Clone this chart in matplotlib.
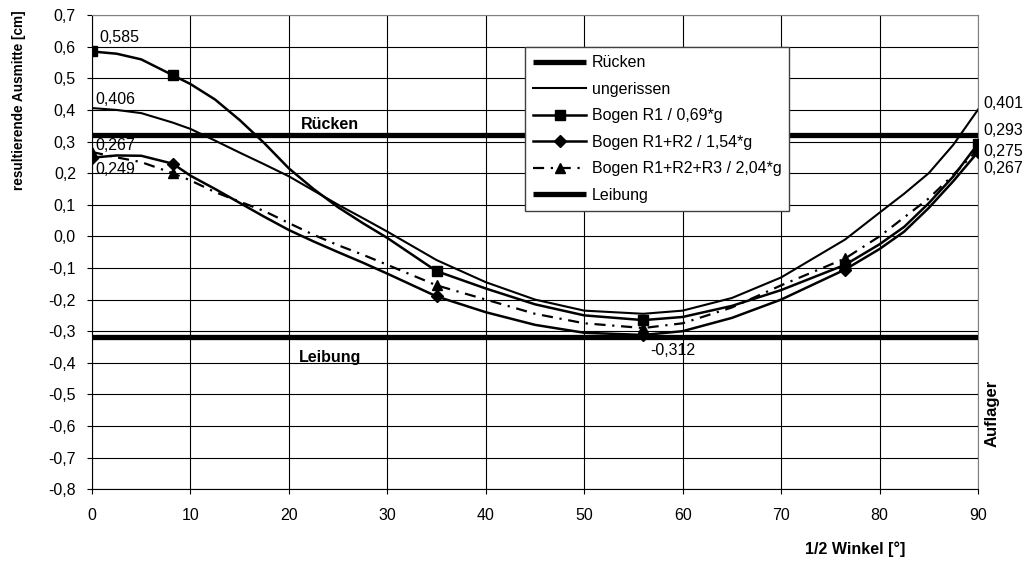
import matplotlib
matplotlib.use("Agg")
import matplotlib.pyplot as plt
from matplotlib.ticker import FuncFormatter, MultipleLocator

plt.rcParams['font.family'] = ['Liberation Sans', 'DejaVu Sans']
plt.rcParams['font.size'] = 11.5

winkel = [0, 2.5, 5, 8.2, 10, 12.5, 15, 17.5, 20, 22.5, 25, 27.5, 30, 35, 40,
          45, 50, 56, 60, 65, 70, 76.5, 80, 82.5, 85, 87.5, 90]
# angles with markers
marker_winkel = [0, 8.2, 35, 56, 76.5, 90]

ungerissen = [0.406, 0.400, 0.390, 0.360, 0.340, 0.303, 0.265, 0.228, 0.190,
              0.145, 0.100, 0.058, 0.015, -0.075, -0.145, -0.200, -0.235,
              -0.245, -0.235, -0.195, -0.130, -0.010, 0.075, 0.135, 0.200,
              0.290, 0.401]
bogen_r1 = [0.585, 0.578, 0.560, 0.510, 0.482, 0.433, 0.368, 0.295, 0.215,
            0.150, 0.092, 0.042, -0.005, -0.110, -0.165, -0.215, -0.250,
            -0.265, -0.255, -0.220, -0.170, -0.090, -0.025, 0.030, 0.105,
            0.190, 0.293]
bogen_r12 = [0.249, 0.256, 0.255, 0.230, 0.192, 0.150, 0.106, 0.062, 0.020,
             -0.016, -0.050, -0.083, -0.118, -0.190, -0.240, -0.280, -0.305,
             -0.312, -0.300, -0.258, -0.200, -0.105, -0.040, 0.015, 0.090,
             0.175, 0.267]
bogen_r123 = [0.267, 0.250, 0.235, 0.200, 0.177, 0.140, 0.110, 0.080, 0.042,
              0.005, -0.028, -0.058, -0.090, -0.155, -0.200, -0.245, -0.275,
              -0.290, -0.275, -0.225, -0.155, -0.070, 0.000, 0.060, 0.120,
              0.195, 0.275]
ruecken = 0.32
leibung = -0.32

marks = [winkel.index(w) for w in marker_winkel]

fig = plt.figure(figsize=(10.26, 5.61), dpi=100)
ax = fig.add_axes([0.0897, 0.128, 0.8635, 0.845])

ax.plot([winkel[0], winkel[-1]], [ruecken, ruecken], color='black', lw=3.8,
        label='Rücken', solid_capstyle='butt', zorder=3)
ax.plot(winkel, ungerissen, color='black', lw=1.5, label='ungerissen', zorder=4)
ax.plot(winkel, bogen_r1, color='black', lw=1.8, marker='s', ms=7.5,
        markevery=marks, label='Bogen R1 / 0,69*g', zorder=6)
ax.plot(winkel, bogen_r12, color='black', lw=1.8, marker='D', ms=6,
        markevery=marks, label='Bogen R1+R2 / 1,54*g', zorder=5)
ax.plot(winkel, bogen_r123, color='black', lw=1.6, marker='^', ms=7.5,
        markevery=marks, linestyle=(0, (5, 3, 1, 3)),
        label='Bogen R1+R2+R3 / 2,04*g', zorder=5)
ax.plot([winkel[0], winkel[-1]], [leibung, leibung], color='black', lw=3.8,
        label='Leibung', solid_capstyle='butt', zorder=3)

ax.set_xlim(0, 90)
ax.set_ylim(-0.8, 0.7)
ax.xaxis.set_major_locator(MultipleLocator(10))
ax.yaxis.set_major_locator(MultipleLocator(0.1))
ax.yaxis.set_major_formatter(FuncFormatter(lambda v, p: f"{v:.1f}".replace('.', ',').replace('-0,0', '0,0')))
ax.grid(True, color='black', lw=0.8)
ax.set_axisbelow(True)
ax.tick_params(direction='out', length=3.6, color='black')
ax.tick_params(axis='x', pad=10)
ax.tick_params(axis='y', pad=8)
for s in ['top', 'right']:
    ax.spines[s].set_color('#808080')

# value labels
def lab(x, y, dx, dy, ha='left'):
    ax.annotate(f"{y:.3f}".replace('.', ','), (x, y), xytext=(dx, dy),
                textcoords='offset pixels', ha=ha, va='center', zorder=8)

lab(0, bogen_r1[0], 7, 14)
lab(0, ungerissen[0], 3, 9)
lab(0, bogen_r123[0], 3, 6)
lab(0, bogen_r12[0], 3, -12)
lab(56, min(bogen_r12), 7, -16)
lab(90, ungerissen[-1], 5, 6)
lab(90, bogen_r1[-1], 5, 13)
lab(90, bogen_r123[-1], 5, -2)
lab(90, bogen_r12[-1], 5, -17)

ax.text(24.2, 0.355, 'Rücken', ha='center', va='center', fontweight='bold')
ax.text(24.2, -0.383, 'Leibung', ha='center', va='center', fontweight='bold')
ax.text(1.016, 0.16, 'Auflager', transform=ax.transAxes, rotation=90,
        ha='center', va='center', fontweight='bold', fontsize=12)

ax.set_ylabel('resultierende Ausmitte [cm]', fontweight='bold', fontsize=9.8)
ax.yaxis.set_label_coords(-0.0745, 0.82)
ax.set_xlabel('1/2 Winkel [°]', fontweight='bold')
ax.xaxis.set_label_coords(0.861, -0.11)

leg = ax.legend(loc='upper left', bbox_to_anchor=(0.489, 0.932),
                fancybox=False, framealpha=1, edgecolor='#404040',
                handlelength=3.3, labelspacing=0.72, borderpad=0.5,
                handletextpad=0.35, borderaxespad=0)
leg.set_zorder(10)
leg.get_frame().set_linewidth(1.0)

fig.savefig('out.png', dpi=100)
